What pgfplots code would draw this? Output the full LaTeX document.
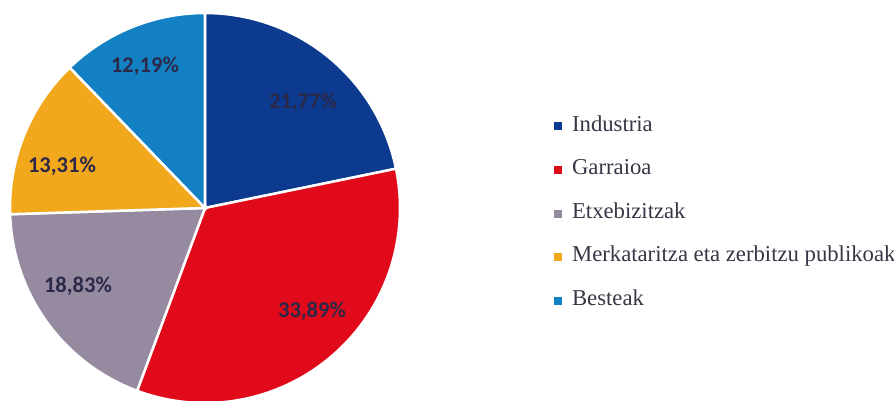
\documentclass[border=0pt]{standalone}
\usepackage{pgfplots}
\pgfplotsset{compat=1.18}
\usepackage{fontspec}
\setmainfont{Liberation Serif}
\newfontfamily\labelfont{Carlito}

\definecolor{cInd}{HTML}{0B3A8E}
\definecolor{cGar}{HTML}{E10A1A}
\definecolor{cEtx}{HTML}{968AA0}
\definecolor{cMer}{HTML}{F2A81D}
\definecolor{cBes}{HTML}{1380C3}
\definecolor{labelc}{HTML}{2B2848}
\definecolor{legtext}{HTML}{383646}

% shares (%), clockwise from 12 o'clock
\def\pInd{21.77}
\def\pGar{33.89}
\def\pEtx{18.83}
\def\pMer{13.31}
\def\pBes{12.19}
\pgfmathsetmacro\aA{90}
\pgfmathsetmacro\aB{\aA-3.6*\pInd}
\pgfmathsetmacro\aC{\aB-3.6*\pGar}
\pgfmathsetmacro\aD{\aC-3.6*\pEtx}
\pgfmathsetmacro\aE{\aD-3.6*\pMer}
\pgfmathsetmacro\aF{\aE-3.6*\pBes}

% pie centre and radius, in axis units (= px of the reference)
\def\cx{205}
\def\cy{193}
\def\rr{195}

\begin{document}
\begin{tikzpicture}
\begin{axis}[
    scale only axis,
    width=894pt, height=401pt,
    xmin=0, xmax=894, ymin=0, ymax=401,
    hide axis,
    legend style={
        at={(axis cs:554,285)}, anchor=north west,
        draw=none, fill=none, inner sep=0pt,
        font=\fontsize{22.7}{22.7}\selectfont, text=legtext,
        row sep=23.6pt,
        nodes={inner sep=0pt, text height=15pt, text depth=5pt},
    },
    legend cell align=left,
    legend image code/.code={\fill[#1] (0pt,-3.5pt) rectangle (7pt,3.5pt);},
    every axis legend/.append style={/tikz/every odd column/.style={column sep=10.5pt}},
]
\addplot[fill=cInd, draw=white, line width=2.5pt, domain=\aB:\aA, samples=90, forget plot]
    ({\cx+\rr*cos(x)}, {\cy+\rr*sin(x)}) -- (axis cs:\cx,\cy) -- cycle;
\addplot[fill=cGar, draw=white, line width=2.5pt, domain=\aC:\aB, samples=120, forget plot]
    ({\cx+\rr*cos(x)}, {\cy+\rr*sin(x)}) -- (axis cs:\cx,\cy) -- cycle;
\addplot[fill=cEtx, draw=white, line width=2.5pt, domain=\aD:\aC, samples=80, forget plot]
    ({\cx+\rr*cos(x)}, {\cy+\rr*sin(x)}) -- (axis cs:\cx,\cy) -- cycle;
\addplot[fill=cMer, draw=white, line width=2.5pt, domain=\aE:\aD, samples=60, forget plot]
    ({\cx+\rr*cos(x)}, {\cy+\rr*sin(x)}) -- (axis cs:\cx,\cy) -- cycle;
\addplot[fill=cBes, draw=white, line width=2.5pt, domain=\aF:\aE, samples=60, forget plot]
    ({\cx+\rr*cos(x)}, {\cy+\rr*sin(x)}) -- (axis cs:\cx,\cy) -- cycle;

% percentage labels
\addplot[draw=none, forget plot, nodes near coords, point meta=explicit symbolic,
    nodes near coords style={font=\labelfont\bfseries\fontsize{22.5}{22.5}\selectfont,
        text=labelc, anchor=center}]
    coordinates {
        (303,299) [{21,77\%}]
        (312,90)  [{33,89\%}]
        (78,115)  [{18,83\%}]
        (62,235)  [{13,31\%}]
        (145,335) [{12,19\%}]
    };

\addlegendimage{cInd}
\addlegendentry{Industria}
\addlegendimage{cGar}
\addlegendentry{Garraioa}
\addlegendimage{cEtx}
\addlegendentry{Etxebizitzak}
\addlegendimage{cMer}
\addlegendentry{Merkataritza eta zerbitzu publikoak}
\addlegendimage{cBes}
\addlegendentry{Besteak}
\end{axis}
\pgfresetboundingbox
\path[use as bounding box] (0,0) rectangle (894pt,401pt);
\end{tikzpicture}
\end{document}
